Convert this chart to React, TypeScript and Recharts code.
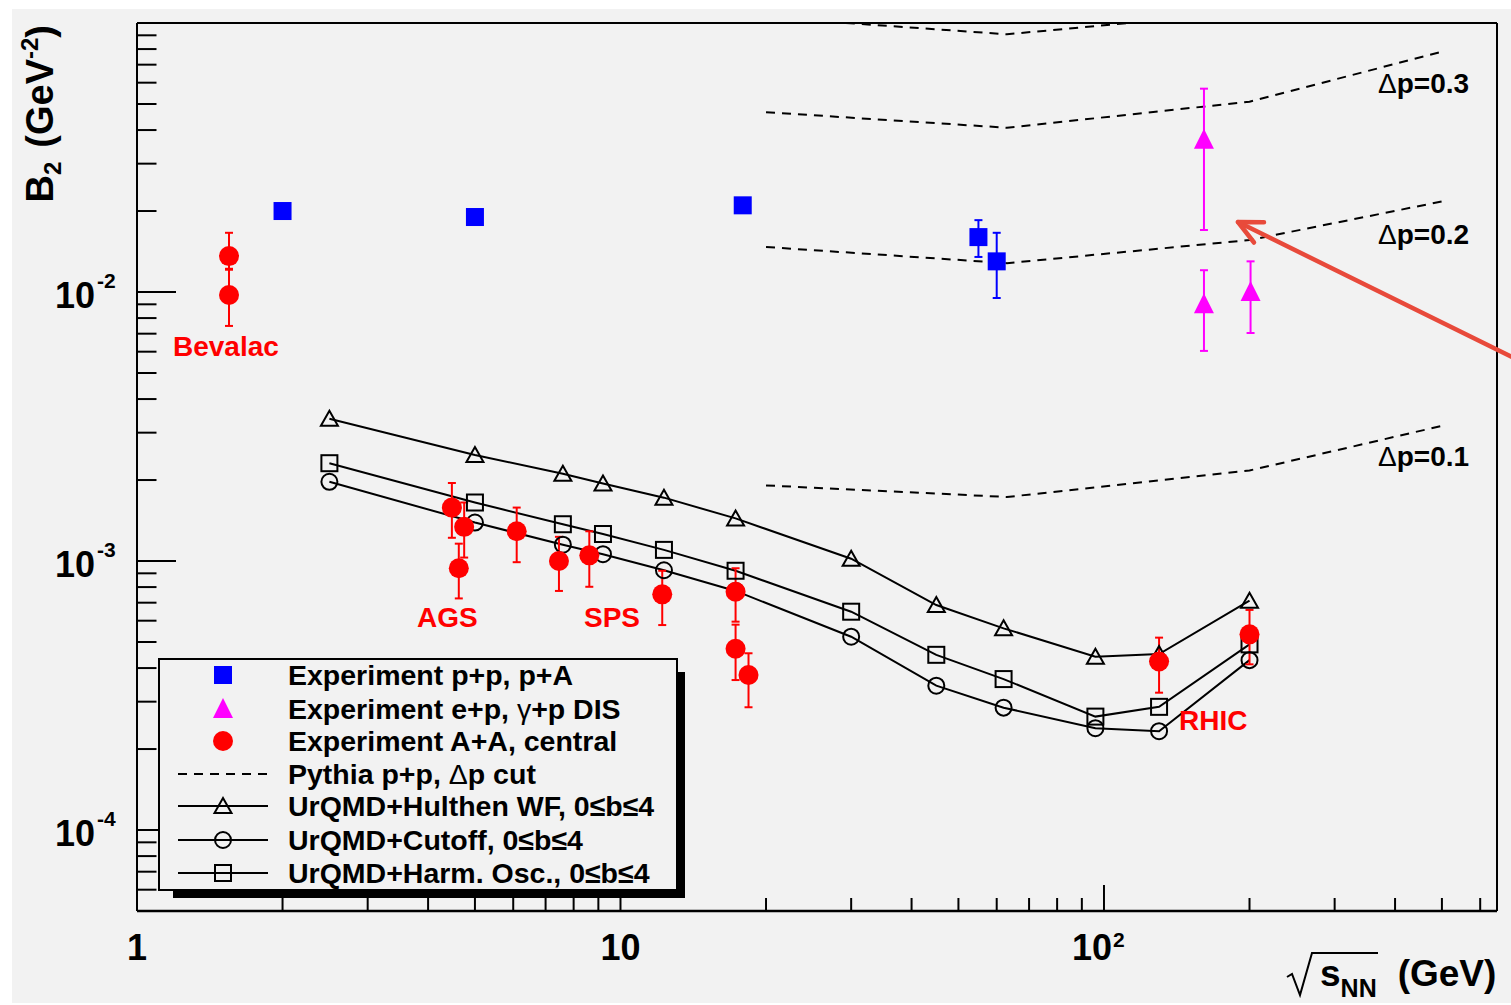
import React from 'react';
import { ComposedChart, Line, Scatter, XAxis, YAxis, ErrorBar } from 'recharts';

const W = 1511;
const H = 1005;
const BG = '#f2f2f2';
const FONT = '"Liberation Sans", Arial, Helvetica, sans-serif';

// experiment p+p, p+A (blue squares)
const ppX = [2.0, 5.0, 17.9, 55, 60];
const ppY = [0.02, 0.019, 0.021, 0.016, 0.013];
const ppLo = [0.02, 0.019, 0.021, 0.0135, 0.0095];
const ppHi = [0.02, 0.019, 0.021, 0.0185, 0.0166];

// experiment e+p, gamma+p DIS (magenta triangles)
const disX = [161, 161, 201];
const disY = [0.0368, 0.009, 0.01];
const disLo = [0.017, 0.00604, 0.00704];
const disHi = [0.057, 0.01205, 0.013];

// experiment A+A central (red circles)
const aaX = [1.55, 1.55, 4.48, 4.75, 4.63, 6.1, 7.46, 8.62, 12.2, 17.3, 17.3, 18.4, 130, 200];
const aaY = [0.0136, 0.00975, 0.00158, 0.00134, 0.00094, 0.00129, 0.001, 0.00105, 0.000752, 0.000769, 0.000472, 0.000377, 0.000423, 0.000534];
const aaLo = [0.0121, 0.00748, 0.00122, 0.00103, 0.000726, 0.00099, 0.000774, 0.000802, 0.000578, 0.000595, 0.000361, 0.000286, 0.000324, 0.000413];
const aaHi = [0.0166, 0.0122, 0.00195, 0.00165, 0.00116, 0.00158, 0.00123, 0.00129, 0.00092, 0.00094, 0.00058, 0.000454, 0.000519, 0.000658];

// UrQMD
const urqmdX = [2.5, 5.0, 7.6, 9.2, 12.3, 17.3, 30, 45, 62, 96, 130, 200];
const hulthenY = [0.00338, 0.00248, 0.00211, 0.00194, 0.00172, 0.00144, 0.00102, 0.000686, 0.000562, 0.000441, 0.000451, 0.000712];
const cutoffY = [0.00197, 0.00139, 0.00115, 0.00106, 0.000924, 0.000774, 0.000523, 0.000344, 0.000285, 0.000239, 0.000233, 0.000428];
const harmOscY = [0.00231, 0.00165, 0.00137, 0.00126, 0.0011, 0.00092, 0.000648, 0.000448, 0.000364, 0.000264, 0.000287, 0.00049];

// Pythia p+p with delta-p cut
const pythiaX = [20, 63, 200, 500];
const pythia01 = [0.00191, 0.00173, 0.00217, 0.00318];
const pythia02 = [0.0147, 0.0128, 0.0156, 0.0217];
const pythia03 = [0.0466, 0.0408, 0.051, 0.0782];
const pythia04 = [0.105, 0.0908, 0.11, 0.16];

const xTicks = [1, 2, 3, 4, 5, 6, 7, 8, 9, 10, 20, 30, 40, 50, 60, 70, 80, 90, 100, 200, 300, 400, 500, 600];
const yTicks = [
  5e-5, 6e-5, 7e-5, 8e-5, 9e-5,
  1e-4, 2e-4, 3e-4, 4e-4, 5e-4, 6e-4, 7e-4, 8e-4, 9e-4,
  1e-3, 2e-3, 3e-3, 4e-3, 5e-3, 6e-3, 7e-3, 8e-3, 9e-3,
  1e-2, 2e-2, 3e-2, 4e-2, 5e-2, 6e-2, 7e-2, 8e-2, 9e-2,
];
const xLabels: Record<string, [string, string]> = { '1': ['1', ''], '10': ['10', ''], '100': ['10', '2'] };
const yLabels: Record<string, string> = { '0.0001': '-4', '0.001': '-3', '0.01': '-2' };

const pts = (xs: number[], ys: number[]) => xs.map((x, i) => ({ x, y: ys[i] }));
const withErr = (xs: number[], ys: number[], lo: number[], hi: number[]) =>
  xs.map((x, i) => ({ x, y: ys[i], err: [ys[i] - lo[i], hi[i] - ys[i]] }));

const isDecade = (v: number) => Math.abs(Math.log10(v) - Math.round(Math.log10(v))) < 1e-9;

const YTick = (props: any) => {
  const { x, y, payload } = props;
  const v = payload.value;
  const major = isDecade(v);
  const exp = yLabels[String(v)];
  return (
    <g>
      <line x1={x} x2={x + (major ? 39 : 19.5)} y1={y} y2={y} stroke="#000" strokeWidth={2} />
      {exp && (
        <g fontFamily={FONT} fontWeight="bold" fill="#000">
          <text x={x - 42} y={y + 16} textAnchor="end" fontSize={36}>10</text>
          <text x={x - 40} y={y - 4} fontSize={21}>{exp}</text>
        </g>
      )}
    </g>
  );
};

const XTick = (props: any) => {
  const { x, y, payload } = props;
  const v = payload.value;
  const major = isDecade(v);
  const lab = xLabels[String(v)];
  return (
    <g>
      {v !== 1 && <line x1={x} x2={x} y1={y} y2={y - (major ? 26 : 13)} stroke="#000" strokeWidth={2} />}
      {lab && (
        <g fontFamily={FONT} fontWeight="bold" fill="#000">
          {lab[1] ? (
            <>
              <text x={x + 8} y={y + 49} textAnchor="end" fontSize={36}>{lab[0]}</text>
              <text x={x + 9} y={y + 36} fontSize={21}>{lab[1]}</text>
            </>
          ) : (
            <text x={x} y={y + 49} textAnchor="middle" fontSize={36}>{lab[0]}</text>
          )}
        </g>
      )}
    </g>
  );
};

const BlueSquare = (p: any) => <rect x={p.cx - 9} y={p.cy - 9} width={18} height={18} fill="#0000ff" />;
const MagentaTri = (p: any) => (
  <polygon points={`${p.cx},${p.cy - 11} ${p.cx + 10},${p.cy + 9} ${p.cx - 10},${p.cy + 9}`} fill="#ff00ff" />
);
const RedDot = (p: any) => <circle cx={p.cx} cy={p.cy} r={10} fill="#ff0000" />;

const openTri = (cx: number, cy: number, k?: any) => (
  <polygon key={k} points={`${cx},${cy - 8} ${cx + 8.5},${cy + 7} ${cx - 8.5},${cy + 7}`} fill="none" stroke="#000" strokeWidth={2} />
);
const openCirc = (cx: number, cy: number, k?: any) => (
  <circle key={k} cx={cx} cy={cy} r={8} fill="none" stroke="#000" strokeWidth={2} />
);
const openSq = (cx: number, cy: number, k?: any) => (
  <rect key={k} x={cx - 8} y={cy - 8} width={16} height={16} fill="none" stroke="#000" strokeWidth={2} />
);

const Arrow = () => {
  const tip = [1238, 222];
  const tail = [1520, 361];
  const dx = tip[0] - tail[0];
  const dy = tip[1] - tail[1];
  const len = Math.hypot(dx, dy);
  const ux = dx / len;
  const uy = dy / len;
  const wing = (ang: number) => {
    const c = Math.cos(ang);
    const s = Math.sin(ang);
    const wx = -(ux * c - uy * s) * 26;
    const wy = -(ux * s + uy * c) * 26;
    return `${tip[0] + wx},${tip[1] + wy}`;
  };
  return (
    <g stroke="#e84a3b" strokeWidth={4.5} fill="none" strokeLinecap="round">
      <line x1={tail[0]} y1={tail[1]} x2={tip[0]} y2={tip[1]} />
      <polyline points={`${wing(0.45)} ${tip[0]},${tip[1]} ${wing(-0.45)}`} strokeLinejoin="round" />
    </g>
  );
};

const legendRows = [
  { label: 'Experiment p+p, p+A', y: 675 },
  { label: 'Experiment e+p, ', y: 709 },
  { label: 'Experiment A+A, central', y: 741 },
  { label: 'Pythia p+p, ', y: 774 },
  { label: 'UrQMD+Hulthen WF, 0≤b≤4', y: 806 },
  { label: 'UrQMD+Cutoff, 0≤b≤4', y: 840 },
  { label: 'UrQMD+Harm. Osc., 0≤b≤4', y: 873 },
];

const LegendBox = () => (
  <g fontFamily={FONT} fontWeight="bold" fontSize={28.5} fill="#000">
    <rect x={173} y={672} width={512} height={226} fill="#000" />
    <rect x={159} y={659} width={518} height={231} fill={BG} stroke="#000" strokeWidth={2} />
    <rect x={214} y={666} width={18} height={18} fill="#0000ff" />
    <polygon points="223,698 233,718 213,718" fill="#ff00ff" />
    <circle cx={223} cy={741} r={10} fill="#ff0000" />
    <line x1={178} x2={268} y1={774} y2={774} stroke="#000" strokeWidth={2} strokeDasharray="9 7" />
    {[806, 840, 873].map((y) => (
      <line key={y} x1={178} x2={268} y1={y} y2={y} stroke="#000" strokeWidth={2} />
    ))}
    {openTri(223, 806)}
    {openCirc(223, 840)}
    {openSq(223, 873)}
    {legendRows.map((r, i) => (
      <text key={i} x={288} y={r.y + 9.5}>
        {r.label}
        {i === 1 && (
          <>
            <tspan fontWeight="normal">γ</tspan>+p DIS
          </>
        )}
        {i === 3 && (
          <>
            <tspan fontWeight="normal">Δ</tspan>p cut
          </>
        )}
      </text>
    ))}
  </g>
);

export default function App() {
  return (
    <div style={{ position: 'absolute', left: 0, top: 0, width: W, height: H, background: '#fff', overflow: 'hidden' }}>
      <div style={{ position: 'absolute', left: 12, top: 9, width: W - 12, height: 994, background: BG }} />
      <div style={{ position: 'absolute', left: 0, top: 0 }}>
        <ComposedChart width={W} height={H} margin={{ top: 23, right: 14, bottom: 64, left: 77 }}>
          <XAxis
            dataKey="x"
            type="number"
            scale="log"
            domain={[1, 650]}
            allowDataOverflow
            ticks={xTicks}
            interval={0}
            tickSize={0}
            tickMargin={0}
            tickLine={false}
            tick={<XTick />}
            axisLine={{ stroke: '#000', strokeWidth: 2.5 }}
            height={30}
          />
          <YAxis
            dataKey="y"
            type="number"
            scale="log"
            domain={[5e-5, 0.1]}
            allowDataOverflow
            ticks={yTicks}
            interval={0}
            tickSize={0}
            tickMargin={0}
            tickLine={false}
            tick={<YTick />}
            axisLine={{ stroke: '#000', strokeWidth: 2 }}
            width={60}
          />
          {[pythia01, pythia02, pythia03, pythia04].map((ys, i) => (
            <Line
              key={`py${i}`}
              data={pts(pythiaX, ys)}
              dataKey="y"
              type="linear"
              stroke="#000"
              strokeWidth={2}
              strokeDasharray="9 7"
              dot={false}
              activeDot={false}
              isAnimationActive={false}
            />
          ))}
          <Line
            data={pts(urqmdX, hulthenY)}
            dataKey="y"
            type="linear"
            stroke="#000"
            strokeWidth={2}
            dot={(p: any) => openTri(p.cx, p.cy, `t${p.index}`)}
            activeDot={false}
            isAnimationActive={false}
          />
          <Line
            data={pts(urqmdX, cutoffY)}
            dataKey="y"
            type="linear"
            stroke="#000"
            strokeWidth={2}
            dot={(p: any) => openCirc(p.cx, p.cy, `c${p.index}`)}
            activeDot={false}
            isAnimationActive={false}
          />
          <Line
            data={pts(urqmdX, harmOscY)}
            dataKey="y"
            type="linear"
            stroke="#000"
            strokeWidth={2}
            dot={(p: any) => openSq(p.cx, p.cy, `s${p.index}`)}
            activeDot={false}
            isAnimationActive={false}
          />
          <Scatter data={withErr(ppX, ppY, ppLo, ppHi)} dataKey="y" shape={BlueSquare} isAnimationActive={false}>
            <ErrorBar dataKey="err" direction="y" width={4} stroke="#0000ff" strokeWidth={2} />
          </Scatter>
          <Scatter data={withErr(disX, disY, disLo, disHi)} dataKey="y" shape={MagentaTri} isAnimationActive={false}>
            <ErrorBar dataKey="err" direction="y" width={4} stroke="#ff00ff" strokeWidth={2} />
          </Scatter>
          <Scatter data={withErr(aaX, aaY, aaLo, aaHi)} dataKey="y" shape={RedDot} isAnimationActive={false}>
            <ErrorBar dataKey="err" direction="y" width={4} stroke="#ff0000" strokeWidth={2} />
          </Scatter>
        </ComposedChart>
      </div>
      <svg width={W} height={H} style={{ position: 'absolute', left: 0, top: 0, pointerEvents: 'none' }}>
        <line x1={137} x2={1497} y1={23} y2={23} stroke="#000" strokeWidth={2} />
        <line x1={1497} x2={1497} y1={23} y2={911} stroke="#000" strokeWidth={2} />
        <g fontFamily={FONT} fontWeight="bold" fill="#000">
          <text transform="translate(53,25) rotate(-90)" textAnchor="end" fontSize={38}>
            B<tspan fontSize={24} dy={8}>2</tspan>
            <tspan dx={14} dy={-8}>(GeV</tspan>
            <tspan fontSize={24} dy={-15}>-2</tspan>
            <tspan dy={15}>)</tspan>
          </text>
          <path d="M1287 977 L1292 974 L1300 995 L1312 953 L1378 953" stroke="#000" strokeWidth={2} fill="none" />
          <text x={1320} y={986} fontSize={37}>
            s<tspan fontSize={25} dy={11}>NN</tspan>
            <tspan dx={21} dy={-11}>(GeV)</tspan>
          </text>
          <g fontSize={28}>
            <text x={1378} y={93}><tspan fontWeight="normal">Δ</tspan>p=0.3</text>
            <text x={1378} y={244}><tspan fontWeight="normal">Δ</tspan>p=0.2</text>
            <text x={1378} y={466}><tspan fontWeight="normal">Δ</tspan>p=0.1</text>
          </g>
          <g fontSize={28} fill="#ff0000">
            <text x={173} y={356}>Bevalac</text>
            <text x={417} y={627}>AGS</text>
            <text x={584} y={627}>SPS</text>
            <text x={1179} y={730}>RHIC</text>
          </g>
        </g>
        <LegendBox />
        <Arrow />
      </svg>
    </div>
  );
}
